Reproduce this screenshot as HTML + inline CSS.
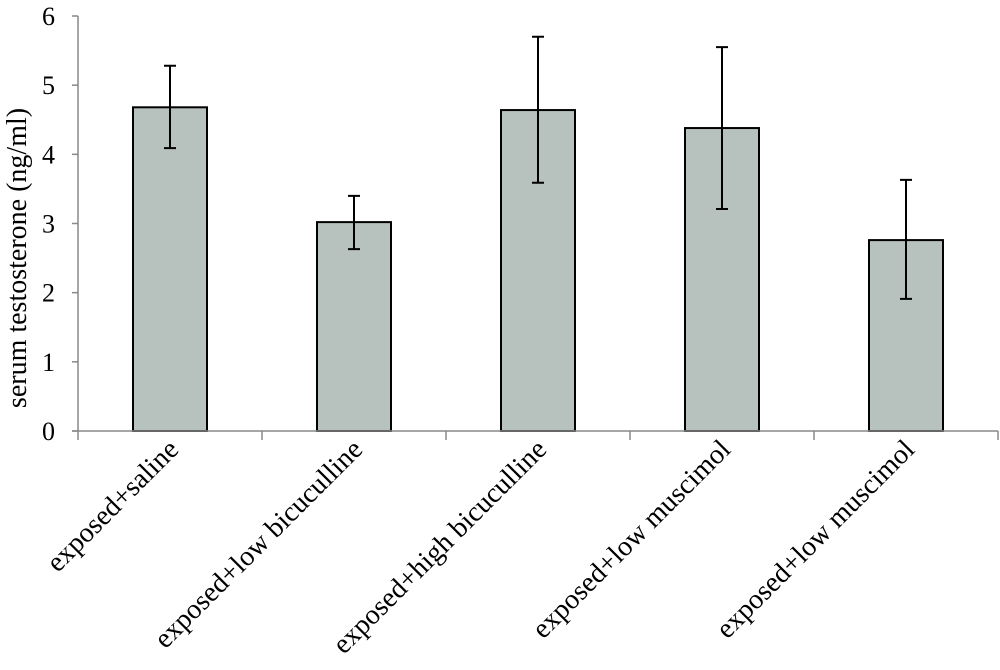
<!DOCTYPE html>
<html><head><meta charset="utf-8"><style>
body{margin:0;background:#fff}
text{font-family:"Liberation Serif",serif;fill:#000}
</style></head><body>
<svg width="1000" height="665">
<g id="g"></g>
</svg>
<script>
const categories=["exposed+saline","exposed+low bicuculline","exposed+high bicuculline","exposed+low muscimol","exposed+low muscimol"];
const values=[4.68,3.02,4.64,4.38,2.76];
const errUpper=[5.28,3.40,5.70,5.55,3.63];
const errLower=[4.09,2.63,3.59,3.21,1.91];
const yTicks=[0,1,2,3,4,5,6];
const NS="http://www.w3.org/2000/svg";
const g=document.getElementById('g');
const x0=78,x1=998,y0=431,yTop=16,yMax=6;
const bandW=(x1-x0)/categories.length;
const yS=v=>y0-(y0-yTop)*v/yMax;
const xC=i=>x0+bandW*(i+0.5);
function mk(t,a){const e=document.createElementNS(NS,t);for(const k in a)e.setAttribute(k,a[k]);g.appendChild(e);return e;}
let e;
e=mk('line',{x1:x0,y1:yTop,x2:x0,y2:y0,stroke:'#888','stroke-width':1.5});


yTicks.forEach(t=>{
 e=mk('line',{x1:x0-6,y1:yS(t),x2:x0,y2:yS(t),stroke:'#888','stroke-width':1.5});
 
 
 e=mk('text',{x:55,y:yS(t)+9,'text-anchor':'end','font-size':26});
 e.textContent=t;
 
 
});
categories.forEach((c,i)=>{
 const bw=74,cx=xC(i);
 e=mk('rect',{x:cx-bw/2,y:yS(values[i]),width:bw,height:y0-yS(values[i]),fill:'#b7c2bf',stroke:'#000','stroke-width':2});
 
 
 e=mk('path',{d:`M${cx},${yS(errUpper[i])}V${yS(errLower[i])}M${cx-6},${yS(errUpper[i])}H${cx+6}M${cx-6},${yS(errLower[i])}H${cx+6}`,stroke:'#000','stroke-width':2,fill:'none'});
 
 
 e=mk('text',{x:cx+10,y:y0+20,'text-anchor':'end','font-size':28,transform:`rotate(-45 ${cx+10} ${y0+20})`});
 e.textContent=c;
 
 
}); 
for(let i=0;i<=categories.length;i++){
 const x=x0+bandW*i;
 e=mk('line',{x1:x,y1:y0,x2:x,y2:y0+9,stroke:'#888','stroke-width':1.5});
 
 
}
e=mk('line',{x1:x0-6,y1:y0,x2:x1,y2:y0,stroke:'#888','stroke-width':1.5});


e=mk('text',{x:26,y:258,'text-anchor':'middle','font-size':28,transform:'rotate(-90 26 258)'});
e.textContent='serum testosterone (ng/ml)';


</script>
</body></html>
